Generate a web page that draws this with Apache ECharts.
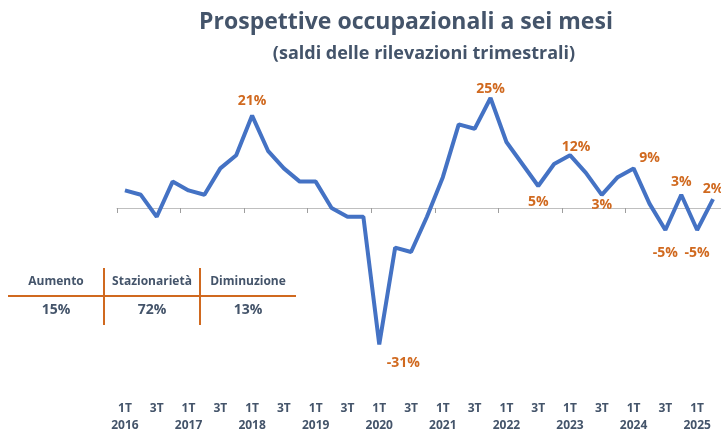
<!DOCTYPE html>
<html lang="it">
<head>
    <meta charset="UTF-8">
    <title>Prospettive occupazionali a sei mesi</title>
    <style>
        body { margin: 0; background: #fff; }
        #chart { width: 721px; height: 434px; }
    </style>
    <script src="https://cdn.jsdelivr.net/npm/echarts@6/dist/echarts.min.js"></script>
</head>
<body>
    <div id="chart"></div>
    <script>
        // trimestri 1T 2016 - 2T 2025
        const years = [2016, 2017, 2018, 2019, 2020, 2021, 2022, 2023, 2024, 2025];
        const quarters = [];
        years.forEach(y => {
            for (let q = 1; q <= 4; q++) {
                if (y === 2025 && q > 2) break;
                quarters.push(q + 'T ' + y);
            }
        });

        // saldi (%)
        const saldi = [
            4, 3, -2, 6,
            4, 3, 9, 12,
            21, 13, 9, 6,
            6, 0, -2, -2,
            -31, -9, -10, -2,
            7, 19, 18, 25,
            15, 10, 5, 10,
            12, 8, 3, 7,
            9, 1, -5, 3,
            -5, 2
        ];

        // punti con etichetta: indice -> [posizione, dx, dy]
        const labelled = {
            8: ['top', 0, -2], 16: ['bottom', 24, 6], 23: ['top', 0, 4], 26: ['bottom', 0, 3],
            28: ['top', 6, 5], 30: ['bottom', 0, -3], 32: ['top', 16, 3], 34: ['bottom', 0, 10],
            35: ['top', 0, 0], 36: ['bottom', 0, 10], 37: ['top', 0, 3]
        };

        // tabella ultima rilevazione
        const tabHeaders = ['Aumento', 'Stazionarietà', 'Diminuzione'];
        const tabValues = ['15%', '72%', '13%'];

        const textColor = '#44546A';
        const orange = '#D0691F';

        const chart = echarts.init(document.getElementById('chart'));

        const seriesData = saldi.map((v, i) => {
            const d = { value: v };
            if (labelled[i]) {
                d.label = {
                    show: true, position: labelled[i][0], distance: 6,
                    color: orange, fontSize: 14, fontWeight: 'bold',
                    fontFamily: 'Open Sans', formatter: '{c}%'
                };
            }
            return d;
        });

        // tabella disegnata con elementi grafici
        const tabLeft = 8, colW = 96, tabTop = 268;
        const graphics = [];
        tabHeaders.forEach((h, i) => {
            graphics.push({
                type: 'text', x: tabLeft + colW * i + colW / 2, y: 282,
                style: { text: h, fill: textColor, font: 'bold 12px "Open Sans"', align: 'center', verticalAlign: 'middle' }
            });
            graphics.push({
                type: 'text', x: tabLeft + colW * i + colW / 2, y: 310,
                style: { text: tabValues[i], fill: textColor, font: 'bold 14px "Open Sans"', align: 'center', verticalAlign: 'middle' }
            });
        });
        graphics.push({
            type: 'line', shape: { x1: tabLeft, y1: 296, x2: tabLeft + colW * 3, y2: 296 },
            style: { stroke: orange, lineWidth: 2 }
        });
        [1, 2].forEach(i => {
            graphics.push({
                type: 'line', shape: { x1: tabLeft + colW * i, y1: tabTop, x2: tabLeft + colW * i, y2: 325 },
                style: { stroke: orange, lineWidth: 2 }
            });
        });

        const option = {
            animation: false,
            title: [
                {
                    text: 'Prospettive occupazionali a sei mesi',
                    left: 401, top: 6, textAlign: 'center',
                    textStyle: { color: textColor, fontSize: 23, fontWeight: 'bold', fontFamily: 'Open Sans' }
                },
                {
                    text: '(saldi delle rilevazioni trimestrali)',
                    left: 419, top: 40, textAlign: 'center',
                    textStyle: { color: textColor, fontSize: 18, fontWeight: 'bold', fontFamily: 'Open Sans' }
                }
            ],
            grid: { left: 117, right: 0, top: 76, height: 290 },
            xAxis: [
                {
                    type: 'category', data: quarters, boundaryGap: true,
                    axisLine: { onZero: true, lineStyle: { color: '#BFBFBF', width: 1 } },
                    axisTick: { show: true, length: 5, lineStyle: { color: '#9E9E9E' } },
                    axisLabel: { show: false }
                },
                {
                    type: 'category', data: quarters, boundaryGap: true, position: 'bottom',
                    axisLine: { show: false }, axisTick: { show: false },
                    axisLabel: {
                        interval: 0, margin: 38, color: textColor, fontWeight: 'bold',
                        fontSize: 12, fontFamily: 'Open Sans', lineHeight: 17,
                        formatter: (v, i) => {
                            if (i % 4 === 0) return '1T\n' + v.split(' ')[1];
                            if (i % 4 === 2) return '3T\n ';
                            return '';
                        }
                    }
                }
            ],
            yAxis: {
                type: 'value', min: -35, max: 30,
                axisLine: { show: false }, axisTick: { show: false },
                axisLabel: { show: false }, splitLine: { show: false }
            },
            series: [{
                type: 'line', data: seriesData, xAxisIndex: 0,
                symbol: 'circle', symbolSize: 0.1, showSymbol: true,
                itemStyle: { color: '#4472C4' },
                lineStyle: { color: '#4472C4', width: 4 },
                labelLayout: p => {
                    const l = labelled[p.dataIndex];
                    return l ? { dx: l[1], dy: l[2], hideOverlap: false } : {};
                }
            }],
            graphic: graphics
        };

        chart.setOption(option);
    </script>
</body>
</html>
